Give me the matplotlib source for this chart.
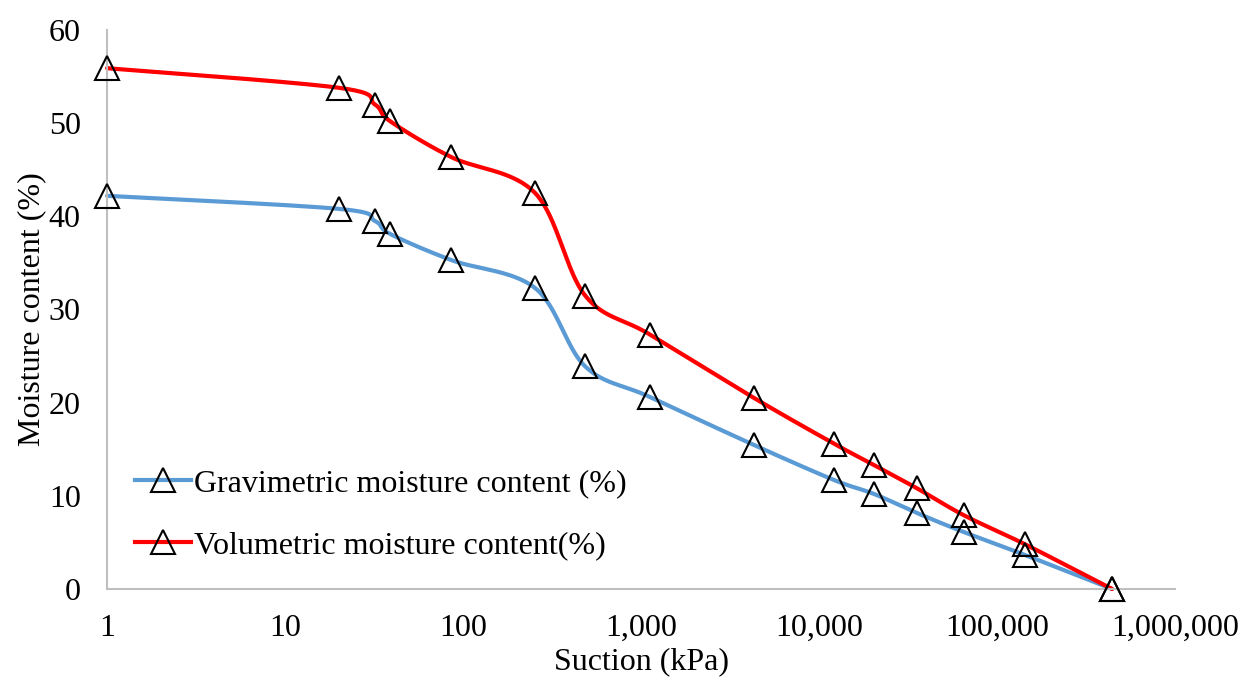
import numpy as np
import matplotlib
matplotlib.use("Agg")
import matplotlib.pyplot as plt
from matplotlib.ticker import FixedLocator, FuncFormatter, NullLocator

# ---- data ----
suction = [1, 20, 32, 39, 86, 254, 485, 1124, 4315, 12130, 20370, 35550, 65300, 143600, 443000]
gravimetric = [42.2, 40.8, 39.5, 38.1, 35.3, 32.3, 23.9, 20.6, 15.45, 11.7, 10.2, 8.15, 6.1, 3.65, 0.0]
volumetric = [55.9, 53.8, 52.0, 50.2, 46.35, 42.5, 31.5, 27.3, 20.5, 15.6, 13.3, 10.8, 7.9, 4.8, 0.0]
x_ticks = [1, 10, 100, 1000, 10000, 100000, 1000000]
y_ticks = [0, 10, 20, 30, 40, 50, 60]
labels = ["Gravimetric moisture content (%)", "Volumetric moisture content(%)"]

plt.rcParams['font.family'] = ['Liberation Serif', 'DejaVu Serif']
FS = 23


def smooth(xs, ys, n=40):
    """Excel-like smoothing (uniform Catmull-Rom) in log-x space."""
    lx = np.log10(np.asarray(xs, float))
    yy = np.asarray(ys, float)
    P = np.column_stack([lx, yy])
    P = np.vstack([P[0], P, P[-1]])
    out = []
    t = np.linspace(0, 1, n)[:, None]
    for i in range(1, len(P) - 2):
        p0, p1, p2, p3 = P[i - 1], P[i], P[i + 1], P[i + 2]
        c1 = p1 + (p2 - p0) / 6.0
        c2 = p2 - (p3 - p1) / 6.0
        seg = ((1 - t) ** 3) * p1 + 3 * ((1 - t) ** 2) * t * c1 + 3 * (1 - t) * t ** 2 * c2 + t ** 3 * p2
        out.append(seg if i == 1 else seg[1:])
    out = np.vstack(out)
    return 10 ** out[:, 0], out[:, 1]


fig = plt.figure(figsize=(12.49, 6.86), dpi=100)
ax = fig.add_axes([0.0857, 0.1414, 0.8551, 0.8149])

colors = ['#5B9BD5', '#FF0000']
mk = dict(marker='^', markersize=17, markerfacecolor='none',
          markeredgecolor='black', markeredgewidth=1.5)
for ys, c, lab in zip([gravimetric, volumetric], colors, labels):
    sx, sy = smooth(suction, ys)
    ax.plot(sx, sy, color=c, lw=3.0, solid_capstyle='round', zorder=2, clip_on=False)
    ax.plot(suction, ys, linestyle='none', zorder=3, clip_on=False, **mk)
    ax.plot([], [], color=c, lw=3.0, label=lab, **mk)

ax.set_xscale('log')
ax.set_xlim(1, 1000000)
ax.set_ylim(0, 60)
ax.xaxis.set_major_locator(FixedLocator(x_ticks))
ax.xaxis.set_minor_locator(NullLocator())
ax.xaxis.set_major_formatter(FuncFormatter(lambda v, p: f"{int(round(v)):,}"))
ax.yaxis.set_major_locator(FixedLocator(y_ticks))

for s in ['top', 'right']:
    ax.spines[s].set_visible(False)
for s in ['left', 'bottom']:
    ax.spines[s].set_color('#BFBFBF')
    ax.spines[s].set_linewidth(1.5)

ax.tick_params(axis='both', length=0, labelsize=FS, colors='black')
ax.tick_params(axis='x', pad=18)
ax.tick_params(axis='y', pad=19)

ax.set_xlabel('Suction (kPa)', fontsize=FS, labelpad=3)
ax.set_ylabel('Moisture content (%)', fontsize=FS, labelpad=2)

leg = ax.legend(loc='lower left', bbox_to_anchor=(0.026, 0.052), frameon=False,
                fontsize=FS, handlelength=1.75, handletextpad=0.1, labelspacing=1.0,
                borderaxespad=0, borderpad=0)

fig.savefig('out.png', dpi=100)
